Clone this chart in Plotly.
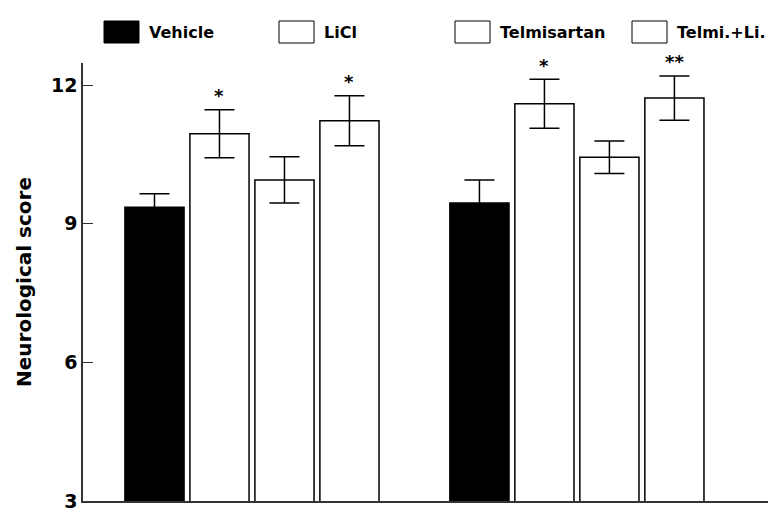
import plotly.graph_objects as go

# ---- data ----
groups = [0, 1]
series = ["Vehicle", "LiCl", "Telmisartan", "Telmi.+Li."]
means = {
    "Vehicle":     [9.36, 9.45],
    "LiCl":        [10.95, 11.60],
    "Telmisartan": [9.95, 10.44],
    "Telmi.+Li.":  [11.23, 11.72],
}
errors = {
    "Vehicle":     [0.29, 0.50],
    "LiCl":        [0.52, 0.53],
    "Telmisartan": [0.50, 0.35],
    "Telmi.+Li.":  [0.54, 0.48],
}
signif = {
    "Vehicle":     ["", ""],
    "LiCl":        ["*", "*"],
    "Telmisartan": ["", ""],
    "Telmi.+Li.":  ["*", "**"],
}
fills = {"Vehicle": "black", "LiCl": "white", "Telmisartan": "white", "Telmi.+Li.": "white"}
y_ticks = [3, 6, 9, 12]

FONT = "DejaVu Sans"
WEIGHT = "bold"
W, H = 768, 513
L, R, T, B = 83, 0, 63, 12
BARGAP = 0.2

fig = go.Figure()
for s in series:
    fig.add_trace(go.Bar(
        x=groups, y=means[s], name=s,
        marker=dict(color=fills[s], line=dict(color="black", width=1.5)),
        error_y=dict(type="data", array=errors[s], color="black", thickness=1.5, width=15, visible=True),
        showlegend=False,
    ))

# significance marks
n = len(series)
slot = (1 - BARGAP) / n
for i, s in enumerate(series):
    for g, m, e, txt in zip(groups, means[s], errors[s], signif[s]):
        if txt:
            fig.add_annotation(x=g + (i - (n - 1) / 2) * slot, y=m + e, text=txt,
                               showarrow=False, yanchor="middle", yshift=14,
                               font=dict(family=FONT, size=18, color="black", weight=WEIGHT))

# custom legend
pw, ph = W - L - R, H - T - B
def px_x(p):
    return (p - L) / pw
def px_y(p):
    return (H - B - p) / ph

legend_left = [104, 279, 455, 632]
for s, x0 in zip(series, legend_left):
    fig.add_shape(type="rect", xref="paper", yref="paper",
                  x0=px_x(x0), x1=px_x(x0 + 35), y0=px_y(43), y1=px_y(21),
                  fillcolor=fills[s], line=dict(color="black", width=1))
    fig.add_annotation(xref="paper", yref="paper", x=px_x(x0 + 43), y=px_y(32),
                       text=s, showarrow=False, xanchor="left", yanchor="middle",
                       font=dict(family=FONT, size=16, color="black", weight=WEIGHT))

fig.update_layout(
    width=W, height=H,
    margin=dict(l=L, r=R, t=T, b=B, pad=0),
    paper_bgcolor="white", plot_bgcolor="white",
    barmode="group", bargap=BARGAP, bargroupgap=0.09,
    font=dict(family=FONT, color="black"),
    xaxis=dict(range=[-0.52, 1.588], showticklabels=False, ticks="",
               showgrid=False, zeroline=False, showline=True, linecolor="#333", linewidth=1.5),
    yaxis=dict(range=[3, 12.48], tickvals=y_ticks, ticks="inside", ticklen=10, tickwidth=1.2,
               tickcolor="#333", showgrid=False, zeroline=False, showline=True,
               linecolor="#333", linewidth=1.5,
               tickfont=dict(family=FONT, size=19, color="black", weight=WEIGHT),
               title=dict(text="Neurological score", standoff=14,
                          font=dict(family=FONT, size=20, color="black", weight=WEIGHT))),
)

fig.write_html("out.html")
